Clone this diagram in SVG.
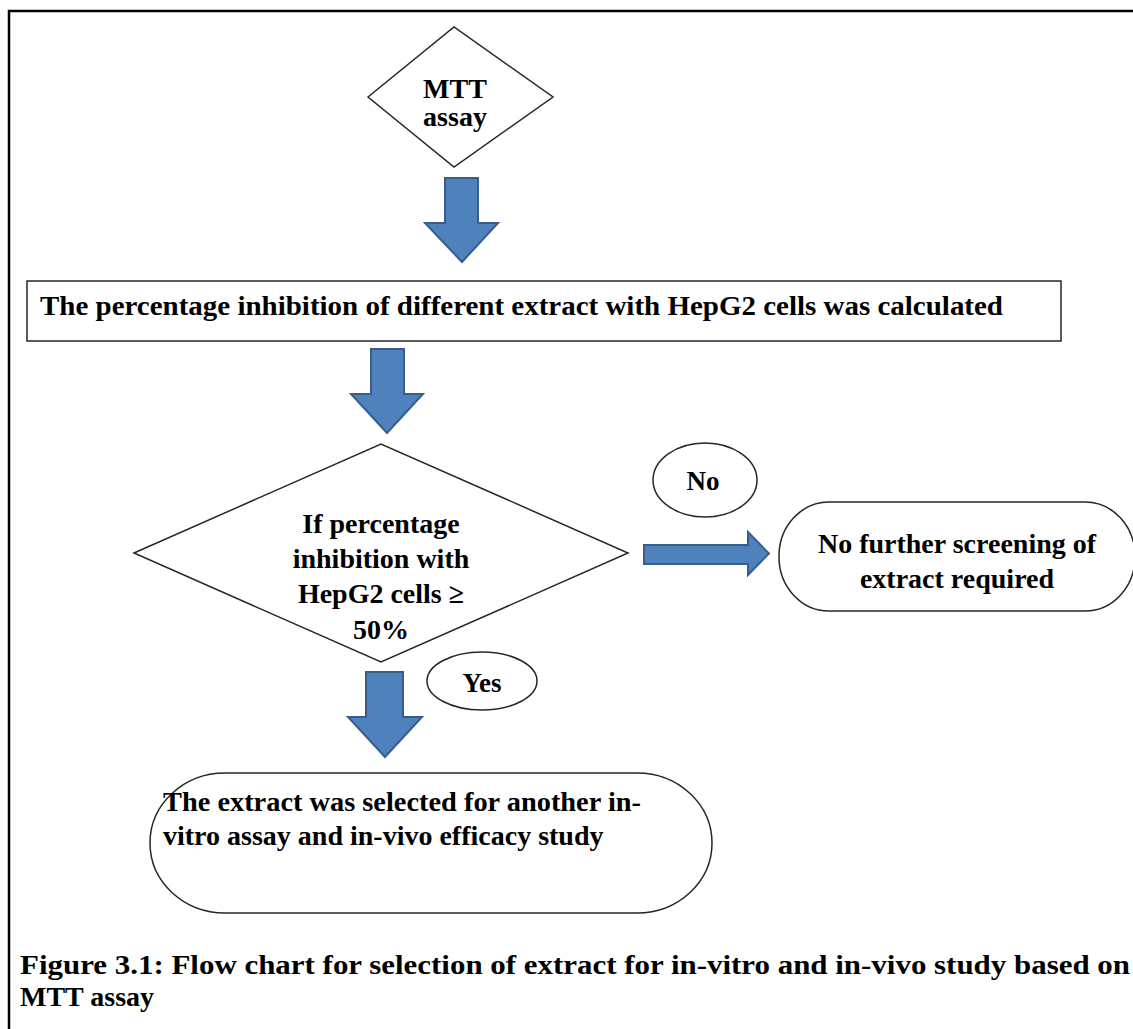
<svg xmlns="http://www.w3.org/2000/svg" width="1133" height="1029" viewBox="0 0 1133 1029">
<style>
.node{fill:#fff;stroke:#262626;stroke-width:1.5}
.t{font-family:"Liberation Serif","Times New Roman",serif;font-weight:bold;fill:#000}
.c{text-anchor:middle}
.arrow{fill:#4F81BD;stroke:#385D8A;stroke-width:2;stroke-linejoin:miter}
</style>
<rect x="0" y="0" width="1133" height="1029" fill="#fff"/>
<path d="M9,1029 V11 H1133" fill="none" stroke="#000" stroke-width="2.5"/>

<g id="mtt">
  <polygon class="node" points="368,97 454,27 553,97 454,167"/>
  <text class="t c" x="455" y="98" font-size="28">MTT</text>
  <text class="t c" x="455" y="126" font-size="28">assay</text>
</g>

<g id="calc">
  <rect class="node" x="27" y="281" width="1034" height="60"/>
  <text class="t" x="40" y="315" font-size="27" textLength="963" lengthAdjust="spacingAndGlyphs">The percentage inhibition of different extract with HepG2 cells was calculated</text>
</g>

<g id="decision">
  <polygon class="node" points="134,553 381,444 628,553 381,662"/>
  <text class="t c" x="381" y="533" font-size="28">If percentage</text>
  <text class="t c" x="381" y="568" font-size="28">inhibition with</text>
  <text class="t c" x="381" y="603" font-size="28">HepG2 cells ≥</text>
  <text class="t c" x="381" y="639" font-size="28">50%</text>
</g>

<g id="label-no">
  <ellipse class="node" cx="705" cy="480" rx="52" ry="37"/>
  <text class="t c" x="703" y="490" font-size="27">No</text>
</g>

<g id="no-screening">
  <rect class="node" x="779" y="502" width="356" height="109" rx="50" ry="54"/>
  <text class="t c" x="957" y="553" font-size="28">No further screening of</text>
  <text class="t c" x="957" y="588" font-size="28">extract required</text>
</g>

<g id="label-yes">
  <ellipse class="node" cx="482" cy="681" rx="55" ry="29"/>
  <text class="t c" x="482" y="692" font-size="27">Yes</text>
</g>

<g id="selected">
  <rect class="node" x="150" y="773" width="562" height="140" rx="75" ry="70"/>
  <text class="t" x="163" y="811" font-size="28" textLength="478" lengthAdjust="spacingAndGlyphs">The extract was selected for another in-</text>
  <text class="t" x="163" y="845" font-size="28">vitro assay and in-vivo efficacy study</text>
</g>

<g id="connectors">
  <path class="arrow" d="M445,178 H478 V223 H498 L462,262 L425,223 H445 Z"/>
  <path class="arrow" d="M371,349 H404 V394 H423 L387,433 L351,394 H371 Z"/>
  <path class="arrow" d="M644,545 H748 V532 L769,553.5 L748,575 V564 H644 Z"/>
  <path class="arrow" d="M366,672 H403 V717 H422 L385,757 L348,717 H366 Z"/>
</g>

<g id="caption">
  <text class="t" x="20" y="974" font-size="28" textLength="1110" lengthAdjust="spacingAndGlyphs">Figure 3.1: Flow chart for selection of extract for in-vitro and in-vivo study based on</text>
  <text class="t" x="20" y="1006" font-size="28">MTT assay</text>
</g>
</svg>
